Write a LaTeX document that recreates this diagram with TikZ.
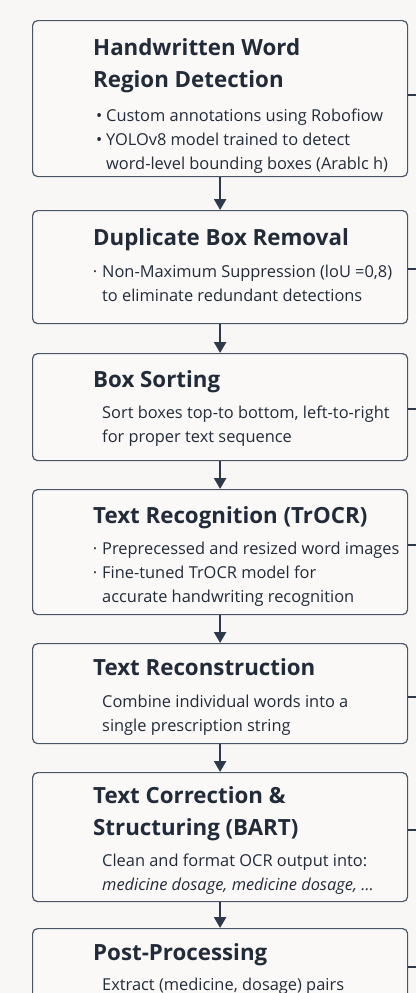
\documentclass[tikz,border=0pt]{standalone}
\usepackage{fontspec}
\setmainfont{Open Sans}
\usepackage{xcolor}
\usetikzlibrary{arrows.meta, calc}

\definecolor{paper}{HTML}{F8F7F5}
\definecolor{boxfill}{HTML}{FAF9F7}
\definecolor{boxline}{HTML}{4A5565}
\definecolor{ink}{HTML}{222B3A}
\definecolor{flowink}{HTML}{2E3A4B}

% lines of a stage, baseline on the first line
\newcommand{\stacklines}[1]{\begin{tabular}[t]{@{}l@{}}#1\end{tabular}}
\newcommand{\bul}{\llap{\textbullet\hspace{4pt}}}
\newcommand{\dotbul}{\llap{·\hspace{5pt}}}

\tikzset{
  stage/.style={draw=boxline, line width=1.2pt, rounded corners=5pt, fill=boxfill,
    minimum width=375pt, anchor=north west, inner sep=0pt},
  ttl/.style={anchor=base west, inner sep=0pt, text=ink,
    font=\fontsize{22.3}{32}\selectfont\bfseries},
  txt/.style={anchor=base west, inner sep=0pt, text=ink,
    font=\fontsize{16.4}{24}\selectfont},
  flow/.style={-{Triangle[width=12pt,length=11pt]}, line width=2.4pt, draw=flowink},
  stub/.style={line width=2pt, draw=flowink}
}

\begin{document}
\begin{tikzpicture}[x=1pt, y=-1pt]
  \useasboundingbox[fill=paper] (0,0) rectangle (416,993);
  \clip (0,0) rectangle (416,993);

  % Stages
  \node[stage, minimum height=156pt] (b1) at (32,20) {};
  \node[stage, minimum height=113pt] (b2) at (32,210) {};
  \node[stage, minimum height=107pt] (b3) at (32,353) {};
  \node[stage, minimum height=125pt] (b4) at (32,489) {};
  \node[stage, minimum height=100pt] (b5) at (32,643) {};
  \node[stage, minimum height=129pt] (b6) at (32,772) {};
  \node[stage, minimum height=120pt] (b7) at (32,928) {};

  % Titles
  \node[ttl] (t1) at (93,55) {\stacklines{Handwritten Word\\Region Detection}};
  \node[ttl] (t2) at (93,245) {Duplicate Box Removal};
  \node[ttl] (t3) at (93,387) {Box Sorting};
  \node[ttl] (t4) at (93,523) {Text Recognition (TrOCR)};
  \node[ttl] (t5) at (93,675) {Text Reconstruction};
  \node[ttl] (t6) at (93,803) {\stacklines{Text Correction \&\\Structuring (BART)}};
  \node[ttl] (t7) at (93,960) {Post-Processing};

  % Descriptions
  \node[txt] (d1) at (106,121) {\stacklines{\bul Custom annotations using Robofiow\\
    \bul YOLOv8 model trained to detect\\word-level bounding boxes (Arablc h)}};
  \node[txt] (d2) at (102,277) {\stacklines{\dotbul Non-Maximum Suppression (loU =0,8)\\
    to eliminate redundant detections}};
  \node[txt] (d3) at (102,418) {\stacklines{Sort boxes top-to bottom, left-to-right\\
    for proper text sequence}};
  \node[txt] (d4) at (102,554) {\stacklines{\dotbul Preprecessed and resized word images\\
    \dotbul Fine-tuned TrOCR model for\\accurate handwriting recognition}};
  \node[txt] (d5) at (102,707) {\stacklines{Combine individual words into a\\
    single prescription string}};
  \node[txt] (d6) at (102,866) {\stacklines{Clean and format OCR output into:\\
    \itshape medicine dosage, medicine dosage, \dots}};
  \node[txt] (d7) at (102,990) {Extract (medicine, dosage) pairs};

  % Flow
  \foreach \a/\b in {b1/b2, b2/b3, b3/b4, b4/b5, b5/b6, b6/b7}
    \draw[flow] (\a.south) -- (\b.north);

  % Stubs to the right
  \foreach \k/\y in {1/95, 2/269, 3/409, 4/545, 5/697, 6/830, 7/967} {
    \coordinate (e\k) at (416,\y);
    \draw[stub] (b\k.east |- e\k) -- (e\k);
  }
\end{tikzpicture}
\end{document}
